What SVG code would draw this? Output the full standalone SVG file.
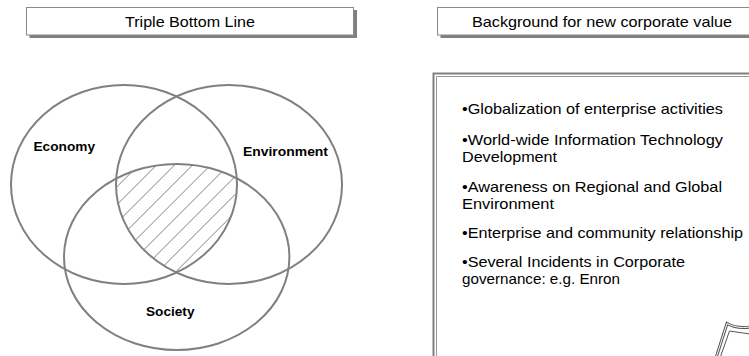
<svg xmlns="http://www.w3.org/2000/svg" width="749" height="356" viewBox="0 0 749 356">
<defs>
<style>
.title{font-family:"Liberation Sans",Arial,sans-serif;font-size:14.5px;fill:#000;text-anchor:middle}
.lbl{font-family:"Liberation Sans",Arial,sans-serif;font-size:13px;font-weight:bold;fill:#000}
.bul{font-family:"Liberation Sans",Arial,sans-serif;font-size:14.5px;fill:#000}
.shadow{fill:#808080}
.tbox{fill:#fff;stroke:#8a8a8a;stroke-width:1}
.venn{fill:none;stroke:#808080;stroke-width:2}
.hatch{stroke:#808080;stroke-width:1}
</style>
<clipPath id="cEco"><ellipse cx="124" cy="184.5" rx="113" ry="99.5"/></clipPath>
<clipPath id="cEnv"><ellipse cx="229" cy="184.5" rx="113" ry="99.5"/></clipPath>
<clipPath id="cSoc"><ellipse cx="176.7" cy="257" rx="112.7" ry="93"/></clipPath>
</defs>
<rect width="749" height="356" fill="#fff"/>

<g id="title-left">
<rect class="shadow" x="29.5" y="10" width="327.5" height="28"/>
<rect class="tbox" x="26.5" y="7.5" width="327" height="27.5"/>
<text class="title" x="190" y="27" textLength="130" lengthAdjust="spacingAndGlyphs">Triple Bottom Line</text>
</g>

<g id="title-right">
<rect class="shadow" x="440.5" y="10" width="330" height="28"/>
<rect class="tbox" x="437.5" y="7.5" width="330" height="27.5"/>
<text class="title" x="602" y="27" textLength="260" lengthAdjust="spacingAndGlyphs">Background for new corporate value</text>
</g>

<g id="venn">
<g clip-path="url(#cEco)"><g clip-path="url(#cEnv)"><g clip-path="url(#cSoc)" class="hatch">
<line x1="13.6" y1="290" x2="153.6" y2="150"/>
<line x1="31.6" y1="290" x2="171.6" y2="150"/>
<line x1="49.6" y1="290" x2="189.6" y2="150"/>
<line x1="67.6" y1="290" x2="207.6" y2="150"/>
<line x1="85.6" y1="290" x2="225.6" y2="150"/>
<line x1="103.6" y1="290" x2="243.6" y2="150"/>
<line x1="121.6" y1="290" x2="261.6" y2="150"/>
<line x1="139.6" y1="290" x2="279.6" y2="150"/>
<line x1="157.6" y1="290" x2="297.6" y2="150"/>
<line x1="175.6" y1="290" x2="315.6" y2="150"/>
</g></g></g>
<g id="economy">
<ellipse class="venn" cx="124" cy="184.5" rx="113" ry="99.5"/>
<text class="lbl" x="33.5" y="150.5" textLength="61.5" lengthAdjust="spacingAndGlyphs">Economy</text>
</g>
<g id="environment">
<ellipse class="venn" cx="229" cy="184.5" rx="113" ry="99.5"/>
<text class="lbl" x="243" y="156" textLength="85" lengthAdjust="spacingAndGlyphs">Environment</text>
</g>
<g id="society">
<ellipse class="venn" cx="176.7" cy="257" rx="112.7" ry="93"/>
<text class="lbl" x="146" y="316" textLength="48.5" lengthAdjust="spacingAndGlyphs">Society</text>
</g>
</g>

<g id="background-box">
<rect x="433.5" y="73.5" width="330" height="300" fill="#fff" stroke="#808080" stroke-width="2"/>
<rect x="436.5" y="76.5" width="330" height="300" fill="none" stroke="#9a9a9a" stroke-width="1"/>
<text class="bul" x="462" y="114" textLength="261" lengthAdjust="spacingAndGlyphs">•Globalization of enterprise activities</text>
<text class="bul" x="462" y="145" textLength="261" lengthAdjust="spacingAndGlyphs">•World-wide Information Technology</text>
<text class="bul" x="462" y="162" textLength="95" lengthAdjust="spacingAndGlyphs">Development</text>
<text class="bul" x="462" y="192" textLength="260" lengthAdjust="spacingAndGlyphs">•Awareness on Regional and Global</text>
<text class="bul" x="462" y="209" textLength="92" lengthAdjust="spacingAndGlyphs">Environment</text>
<text class="bul" x="462" y="238" textLength="281" lengthAdjust="spacingAndGlyphs">•Enterprise and community relationship</text>
<text class="bul" x="462" y="267" textLength="223" lengthAdjust="spacingAndGlyphs">•Several Incidents in Corporate</text>
<text class="bul" x="462" y="284" textLength="158" lengthAdjust="spacingAndGlyphs">governance: e.g. Enron</text>
<g fill="none">
<path d="M716,358 L727,323.5 Q737,329 750,327" stroke="#555" stroke-width="3"/>
<path d="M716,358 L727,323.5 Q737,329 750,327" stroke="#fff" stroke-width="1"/>
<path d="M720,358 L729.5,331 L750,334" stroke="#555" stroke-width="1"/>
</g>
</g>

<g id="connectors"/>
</svg>
